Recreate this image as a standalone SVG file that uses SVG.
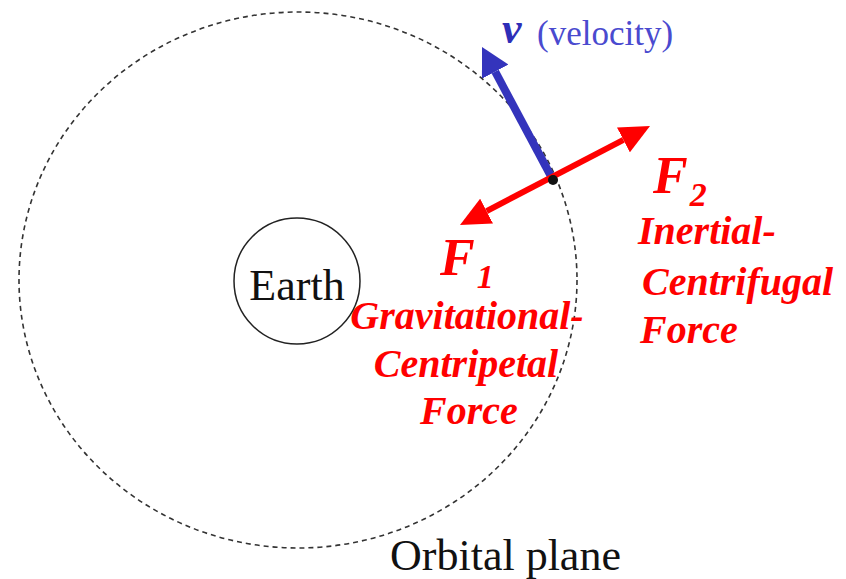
<svg xmlns="http://www.w3.org/2000/svg" width="846" height="579" viewBox="0 0 846 579">
<style>
.serif{font-family:"Liberation Serif","Times New Roman",serif}
.red{fill:#ff0000;font-weight:bold;font-style:italic}
.lbl{font-size:40px}
.black{fill:#111111}
</style>
<defs>
<marker id="headRed" viewBox="0 0 30 28" refX="0" refY="14" markerUnits="userSpaceOnUse" markerWidth="30" markerHeight="28" orient="auto-start-reverse">
<path d="M0,0 L30,14 L0,28 z" fill="#ff0000"/>
</marker>
<marker id="headBlue" viewBox="0 0 28 30" refX="0" refY="15" markerUnits="userSpaceOnUse" markerWidth="28" markerHeight="30" orient="auto">
<path d="M0,0 L28,15 L0,30 z" fill="#3434bc"/>
</marker>
</defs>
<rect width="846" height="579" fill="#ffffff"/>
<g id="orbit">
<ellipse cx="298" cy="280" rx="279" ry="268" fill="none" stroke="#333333" stroke-width="1.6" stroke-dasharray="5 4"/>
<text class="serif black" x="390" y="570" font-size="44">Orbital plane</text>
</g>
<g id="earth">
<circle cx="297" cy="281" r="63" fill="#ffffff" stroke="#222222" stroke-width="1.5"/>
<text class="serif black" x="297" y="300" font-size="44" text-anchor="middle">Earth</text>
</g>
<g id="connectors">
<line x1="553" y1="180" x2="495.2" y2="71.7" stroke="#3434bc" stroke-width="8" marker-end="url(#headBlue)"/>
<line x1="486.6" y1="211.1" x2="623.4" y2="139.9" stroke="#ff0000" stroke-width="6" marker-start="url(#headRed)" marker-end="url(#headRed)"/>
<circle cx="553" cy="180" r="5" fill="#111111"/>
</g>
<g id="velocity">
<text class="serif" x="502" y="43" font-size="44" font-weight="bold" font-style="italic" fill="#2e2eb8">v</text>
<text class="serif" x="537" y="45" font-size="35" fill="#4a4acf">(velocity)</text>
</g>
<g id="f1">
<text class="serif red" x="440" y="275" font-size="52">F<tspan font-size="34" dx="2" dy="13">1</tspan></text>
<text class="serif red lbl" x="467" y="329" text-anchor="middle">Gravitational-</text>
<text class="serif red lbl" x="466" y="377" text-anchor="middle">Centripetal</text>
<text class="serif red lbl" x="469" y="424" text-anchor="middle">Force</text>
</g>
<g id="f2">
<text class="serif red" x="653" y="193" font-size="52">F<tspan font-size="34" dx="2" dy="13">2</tspan></text>
<text class="serif red lbl" x="638" y="244">Inertial-</text>
<text class="serif red lbl" x="642" y="295">Centrifugal</text>
<text class="serif red lbl" x="640" y="343">Force</text>
</g>
</svg>
